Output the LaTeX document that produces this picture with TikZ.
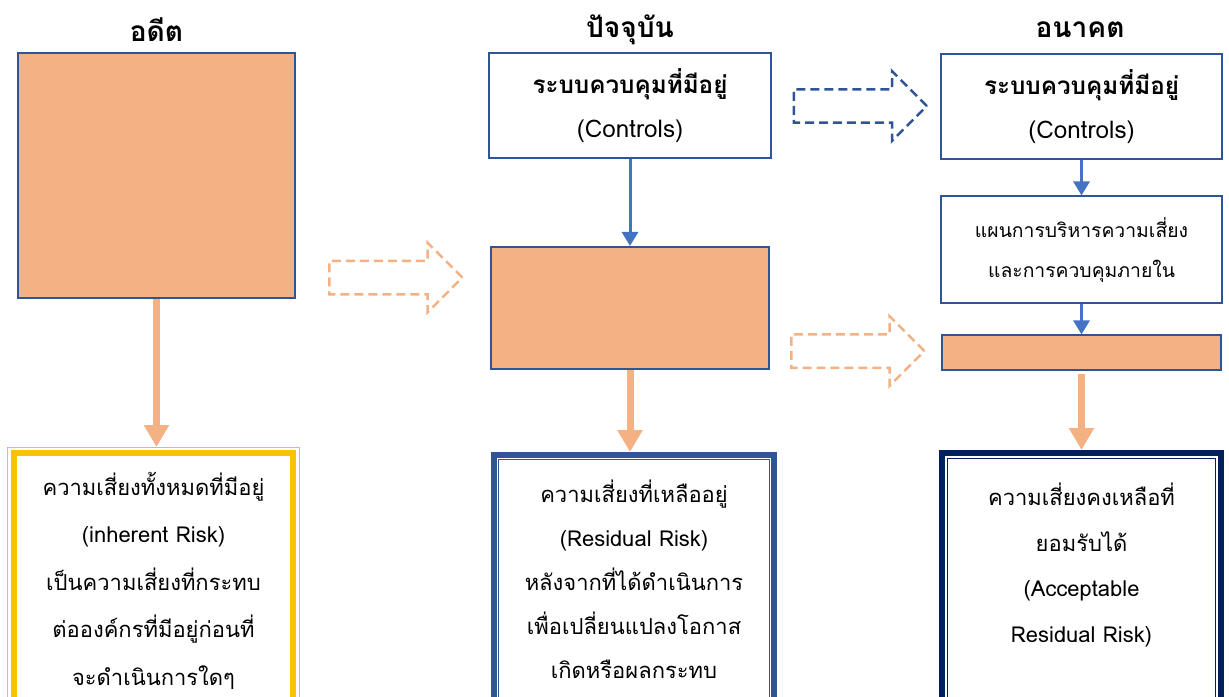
\documentclass[tikz,border=0pt]{standalone}
\usepackage{fontspec}
\newfontfamily\thaifont[Script=Thai]{Loma}
\usetikzlibrary{shapes, arrows, positioning, calc}
\usetikzlibrary{arrows.meta}

\definecolor{riskorange}{HTML}{F4B183}
\definecolor{ctrlblue}{HTML}{2F5597}
\definecolor{flowblue}{HTML}{4472C4}
\definecolor{pastyellow}{HTML}{FFC000}
\definecolor{futurenavy}{HTML}{002060}

\begin{document}
\begin{tikzpicture}[
    x=0.02cm, y=-0.02cm,
    font=\thaifont,
    title/.style={font=\thaifont\bfseries\fontsize{16}{18}\selectfont},
    riskbox/.style={rectangle, draw=ctrlblue, line width=0.04cm, fill=riskorange, minimum width=5.56cm},
    ctrlbox/.style={rectangle, draw=ctrlblue, line width=0.04cm, fill=white, text width=5.4cm, text centered, minimum width=5.56cm, minimum height=2.12cm, font=\thaifont\bfseries\fontsize{13.8}{25}\selectfont},
    planbox/.style={rectangle, draw=ctrlblue, line width=0.04cm, fill=white, text width=5.4cm, text centered, minimum width=5.6cm, minimum height=2.14cm, font=\thaifont\fontsize{11}{22.7}\selectfont},
    result/.style={rectangle, draw=#1, line width=0.12cm, text width=5.4cm, text centered, minimum width=5.6cm, inner sep=0pt, outer sep=0pt, anchor=north, text depth=5cm},
    hop/.style={single arrow, draw=#1, dash pattern=on 0.18cm off 0.1cm, line width=0.05cm, text height=0.31cm, text depth=0.31cm, minimum height=2.66cm, minimum width=1.34cm, single arrow head extend=0.36cm, single arrow tip angle=90, inner sep=0pt},
    flowthick/.style={draw=riskorange, line width=0.14cm, -{Triangle[width=0.48cm,length=0.44cm]}},
    flowthin/.style={draw=flowblue, line width=0.06cm, -{Triangle[width=0.32cm,length=0.28cm]}}
]
\useasboundingbox (0,0) rectangle (1229,696);

\node [title] (tPast) at (156.5,30) {อดีต};
\node [title] (tNow) at (630,30) {ปัจจุบัน};
\node [title] (tNext) at (1080,30) {อนาคต};

\node [riskbox, minimum width=5.54cm, minimum height=4.9cm] (riskA) at (156.5,175.5) {};
\node [result=pastyellow, text height=0.85cm, font=\thaifont\fontsize{12.5}{27}\selectfont] (resA) at (153.5,453)
    {ความเสี่ยงทั้งหมดที่มีอยู่\\(inherent Risk)\\เป็นความเสี่ยงที่กระทบ\\ต่อองค์กรที่มีอยู่ก่อนที่\\จะดำเนินการใดๆ};

\node [ctrlbox, minimum height=2.1cm] (ctrlB) at (630,105.5) {ระบบควบคุมที่มีอยู่\\\mdseries(Controls)};
\node [riskbox, below=1.74cm of ctrlB, minimum height=2.44cm] (riskB) {};
\node [result=ctrlblue, text height=0.96cm, font=\thaifont\fontsize{12.5}{25}\selectfont] (resB) at (634,454.5)
    {ความเสี่ยงที่เหลืออยู่\\(Residual Risk)\\หลังจากที่ได้ดำเนินการ\\เพื่อเปลี่ยนแปลงโอกาส\\เกิดหรือผลกระทบ};

\node [ctrlbox, minimum width=5.54cm] (ctrlC) at (1081.5,106.5) {ระบบควบคุมที่มีอยู่\\\mdseries(Controls)};
\node [planbox, below=0.7cm of ctrlC] (planC) {แผนการบริหารความเสี่ยง\\และการควบคุมภายใน};
\node [riskbox, below=0.6cm of planC, minimum width=5.58cm, minimum height=0.7cm] (riskC) {};
\node [result=futurenavy, text height=1.06cm, font=\thaifont\fontsize{12.5}{25.9}\selectfont] (resC) at (1081.5,452.5)
    {ความเสี่ยงคงเหลือที่\\ยอมรับได้\\(Acceptable\\Residual Risk)};

\draw [pastyellow, line width=0.02cm] ($(resA.north west)+(-6,-6)$) rectangle ($(resA.south east)+(6,6)$);
\draw [ctrlblue, line width=0.02cm] ($(resB.north west)+(4.5,4.5)$) rectangle ($(resB.south east)+(-4.5,-4.5)$);
\draw [futurenavy, line width=0.02cm] ($(resC.north west)+(5.5,5.5)$) rectangle ($(resC.south east)+(-5.5,-5.5)$);

\node [hop=riskorange] (hopAB) at (387.5,277.5) {};
\node [hop=ctrlblue] (hopBC) at (852,106) {};
\node [hop=riskorange] (hopRisk) at (849.5,351) {};

\path [flowthick, shorten >=0.12cm] (riskA.south) -- (riskA.south |- resA.north);
\path [flowthin] (ctrlB) -- (riskB);
\path [flowthick, shorten >=0.05cm] (riskB.south) -- (riskB.south |- resB.north);
\path [flowthin] (ctrlC) -- (planC);
\path [flowthin] (planC) -- (riskC);
\path [flowthick, shorten <=0.06cm, shorten >=0.05cm] (riskC.south) -- (riskC.south |- resC.north);

\end{tikzpicture}
\end{document}
